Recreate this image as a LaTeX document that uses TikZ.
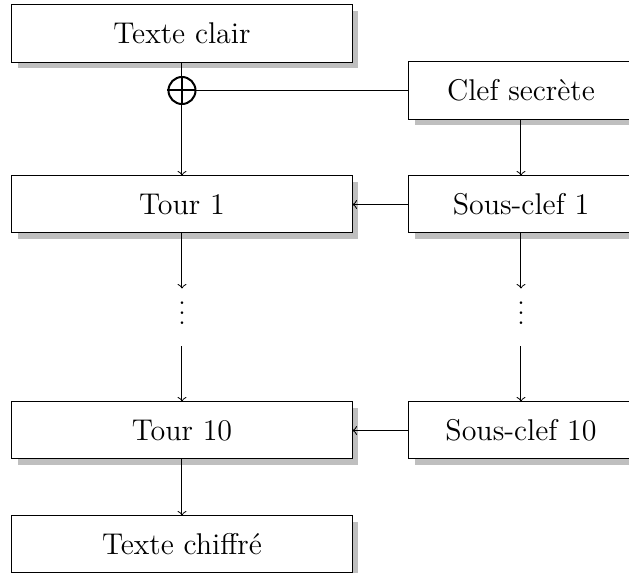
\documentclass[tikz,border=0pt]{standalone}
\usetikzlibrary{shadows}
\begin{document}
\begin{tikzpicture}[x=0.4pt,y=-0.4pt,
  box/.style={draw, fill=white, rectangle, inner sep=0pt, minimum height=22.8pt, font=\large,
    drop shadow={shadow xshift=2.4pt, shadow yshift=-2.4pt, fill=black!25, opacity=1}},
  wide/.style={box, minimum width=136pt},
  narrow/.style={box, minimum width=89.6pt},
  gapnode/.style={inner sep=0pt, minimum height=22.8pt, minimum width=8pt},
  xorsty/.style={draw, circle, inner sep=0pt, minimum size=10.8pt, line width=0.8pt}]
\useasboundingbox (0,0) rectangle (629,573);
\node[wide] (clair) at (182,33.5) {Texte clair};
\node[narrow] (clef) at (521,90.5) {Clef secrète};
\node[wide] (tour1) at (182,204.5) {Tour 1};
\node[narrow] (sc1) at (521,204.5) {Sous-clef 1};
\node[gapnode] (d1) at (182,317.5) {\raisebox{-2.95pt}[0pt][0pt]{$\vdots$}};
\node[gapnode] (d2) at (521,317.5) {\raisebox{-2.95pt}[0pt][0pt]{$\vdots$}};
\node[wide] (tour10) at (182,430.5) {Tour 10};
\node[narrow] (sc10) at (521,430.5) {Sous-clef 10};
\node[wide] (chiffre) at (182,544.5) {Texte chiffré};
\node[xorsty] (xor) at (182,90.5) {};
\draw[line width=0.8pt] (xor.west) -- (xor.east) (xor.north) -- (xor.south);
\draw (clair) -- (xor);
\draw[->] (xor) -- (tour1);
\draw (xor.east) -- (clef.west);
\draw[->] (clef) -- (sc1);
\draw[->] (sc1) -- (tour1);
\draw[->] (tour1) -- (d1);
\draw[->] (d1) -- (tour10);
\draw[->] (sc1) -- (d2);
\draw[->] (d2) -- (sc10);
\draw[->] (sc10) -- (tour10);
\draw[->] (tour10) -- (chiffre);
\end{tikzpicture}
\end{document}
